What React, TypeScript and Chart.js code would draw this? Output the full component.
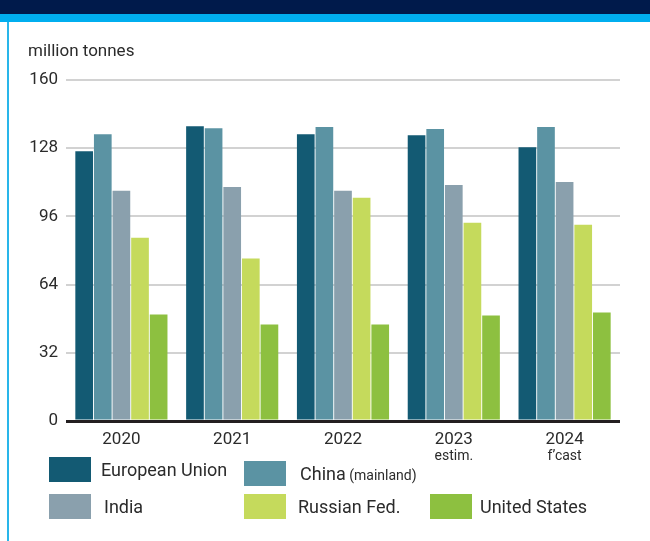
import React, { useEffect, useRef } from "react";
import { Chart, registerables } from "chart.js";

Chart.register(...registerables);

const years = ["2020", "2021", "2022", "2023", "2024"];
const yearNotes = ["", "", "", "estim.", "f\u2019cast"];
const euValues = [126.6, 138.3, 134.6, 134.1, 128.5];
const chinaValues = [134.6, 137.4, 137.9, 137.0, 137.9];
const indiaValues = [108.0, 109.8, 108.0, 110.7, 112.1];
const russiaValues = [86.0, 76.2, 104.7, 93.0, 92.1];
const usValues = [50.0, 45.3, 45.3, 49.5, 50.9];
const yTicks = [0, 32, 64, 96, 128, 160];
const unitLabel = "million tonnes";

const seriesNames = ["European Union", "China", "India", "Russian Fed.", "United States"];
const seriesNotes = ["", "(mainland)", "", "", ""];
const seriesColors = ["#135a73", "#5b93a3", "#8aa0ad", "#c5da5c", "#8dc040"];

const FONT = "Roboto, 'Noto Sans', sans-serif";
const TEXT = "#2b2b2b";

const legendPos = [
  { x: 49, y: 457, tx: 101 },
  { x: 244, y: 461, tx: 300 },
  { x: 49, y: 494, tx: 104 },
  { x: 244, y: 494, tx: 298 },
  { x: 430, y: 494, tx: 480 },
];

export default function App() {
  const ref = useRef<HTMLCanvasElement | null>(null);

  useEffect(() => {
    if (!ref.current) return;
    const notesPlugin = {
      id: "notes",
      afterDraw(chart: any) {
        const ctx = chart.ctx;
        const xs = chart.scales.x;
        ctx.save();
        ctx.font = `14px ${FONT}`;
        ctx.fillStyle = TEXT;
        ctx.textAlign = "center";
        ctx.textBaseline = "middle";
        yearNotes.forEach((n, i) => {
          if (!n) return;
          ctx.fillText(n, xs.getPixelForValue(i), 456);
        });
        ctx.restore();
      },
    };
    const chart = new Chart(ref.current, {
      type: "bar",
      data: {
        labels: years,
        datasets: [euValues, chinaValues, indiaValues, russiaValues, usValues].map((d, i) => ({
          label: seriesNames[i],
          data: d,
          backgroundColor: seriesColors[i],
          borderWidth: 0,
          categoryPercentage: 0.84,
          barPercentage: 0.95,
        })),
      },
      options: {
        animation: false,
        responsive: false,
        maintainAspectRatio: false,
        layout: { padding: { left: 0, top: 80, right: 30, bottom: 0 } },
        plugins: {
          legend: { display: false },
          tooltip: { enabled: false },
          title: { display: false },
        },
        scales: {
          x: {
            grid: { display: false, drawTicks: false },
            border: { display: false },
            ticks: {
              color: TEXT,
              font: { family: FONT, size: 17 },
              padding: 9,
            },
            afterFit: (s: any) => {
              s.height = 120;
            },
          },
          y: {
            min: 0,
            max: 160,
            afterBuildTicks: (s: any) => {
              s.ticks = yTicks.map((v) => ({ value: v }));
            },
            grid: {
              drawTicks: false,
              color: (c: any) => (c.tick && c.tick.value === 0 ? "#231f20" : "#d2d2d2"),
              lineWidth: (c: any) => (c.tick && c.tick.value === 0 ? 3 : 2),
            },
            border: { display: false },
            ticks: {
              color: TEXT,
              font: { family: FONT, size: 17 },
              padding: 8,
            },
            afterFit: (s: any) => {
              s.width = 66;
            },
          },
        },
      },
      plugins: [notesPlugin],
    });
    return () => chart.destroy();
  }, []);

  return (
    <div style={{ position: "fixed", left: 0, top: 0, width: 650, height: 541, background: "#fff", overflow: "hidden" }}>
      <div style={{ position: "absolute", left: 0, top: 0, width: 650, height: 14, background: "#001a4b" }} />
      <div style={{ position: "absolute", left: 0, top: 14, width: 650, height: 8, background: "#00aeef" }} />
      <div style={{ position: "absolute", left: 7, top: 22, width: 2, height: 519, background: "#29b6ea" }} />
      <canvas ref={ref} width={650} height={541} style={{ position: "absolute", left: 0, top: 0 }} />
      <div
        style={{
          position: "absolute",
          left: 28,
          top: 40,
          font: `17px ${FONT}`,
          color: TEXT,
          lineHeight: "20px",
          whiteSpace: "nowrap",
        }}
      >
        {unitLabel}
      </div>
      {seriesNames.map((name, i) => (
        <React.Fragment key={name}>
          <div
            style={{
              position: "absolute",
              left: legendPos[i].x,
              top: legendPos[i].y,
              width: 42,
              height: 25,
              background: seriesColors[i],
            }}
          />
          <div
            style={{
              position: "absolute",
              left: legendPos[i].tx,
              top: legendPos[i].y + 2,
              height: 22,
              lineHeight: "22px",
              font: `18px ${FONT}`,
              color: TEXT,
              whiteSpace: "nowrap",
            }}
          >
            {name}
            {seriesNotes[i] ? <span style={{ fontSize: 14 }}> {seriesNotes[i]}</span> : null}
          </div>
        </React.Fragment>
      ))}
    </div>
  );
}
